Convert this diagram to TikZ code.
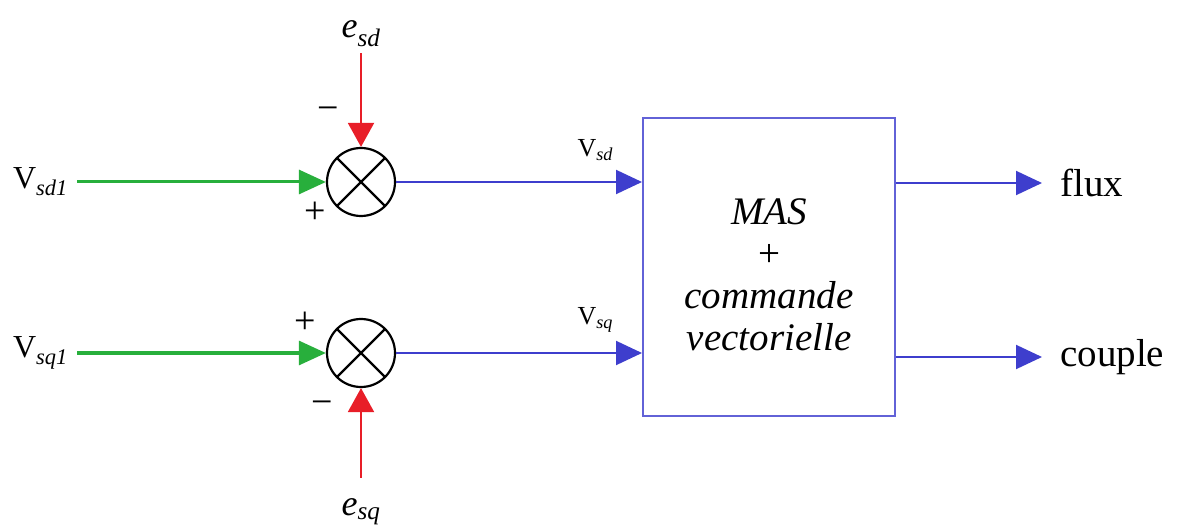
\documentclass[tikz,border=0pt]{standalone}
\usepackage{fontspec}
\setmainfont{Liberation Serif}
\usepackage{tikz}
\usetikzlibrary{arrows.meta, positioning}

\definecolor{sigGreen}{RGB}{40,175,60}
\definecolor{sigRed}{RGB}{232,30,40}
\definecolor{sigBlue}{RGB}{62,62,205}
\definecolor{boxBlue}{RGB}{98,98,215}

\begin{document}
\begin{tikzpicture}[
    x=1pt, y=-1pt,
    node distance=171pt,
    junction/.style={circle, draw=black, line width=2.2pt, minimum size=68pt, inner sep=0pt,
        path picture={\draw[line width=2.2pt] (path picture bounding box.north west) -- (path picture bounding box.south east)
            (path picture bounding box.south west) -- (path picture bounding box.north east);}},
    blockbox/.style={rectangle, draw=boxBlue, line width=2pt, minimum width=252pt, minimum height=298pt, align=center,
        font=\fontsize{39}{42}\selectfont\itshape},
    inlabel/.style={font=\fontsize{32}{36}\selectfont, anchor=east, inner sep=9pt},
    elabel/.style={font=\fontsize{36}{40}\selectfont, inner sep=6pt},
    outlabel/.style={font=\fontsize{39}{44}\selectfont, anchor=west, inner xsep=18pt},
    vlabel/.style={font=\fontsize{26}{30}\selectfont, anchor=south, inner sep=2pt},
    signlabel/.style={font=\fontsize{38}{40}\selectfont, inner sep=0pt},
    greenarrow/.style={draw=sigGreen, line width=3pt, -{Triangle[length=27pt, width=24pt]}},
    redarrow/.style={draw=sigRed, line width=2pt, -{Triangle[length=24pt, width=26pt]}},
    bluearrow/.style={draw=sigBlue, line width=2pt, -{Triangle[length=26pt, width=24pt]}}
]
\useasboundingbox (0,0) rectangle (1180,526);

% summing junctions and the block
\node (sumd) [junction] at (361,182) {};
\node (sumq) [junction, below of=sumd] {};
\node (blk) [blockbox] at (769,267) {\rule{0pt}{42pt}MAS\\ {\upshape +}\\ commande\\ vectorielle};

% inputs
\node (vsdone) [inlabel] at (77,182) {V\textsubscript{\itshape sd1}};
\node (vsqone) [inlabel] at (77,353) {V\textsubscript{\itshape sq1}};
\node (esd) [elabel, above of=sumd, node distance=148pt] {\textit{e}\textsubscript{\itshape sd}};
\node (esq) [elabel, below of=sumq, node distance=159pt] {\textit{e}\textsubscript{\itshape sq}};

% signs
\node (minusd) [signlabel] at (328,114) {−};
\node (plusd) [signlabel] at (315,213) {+};
\node (plusq) [signlabel] at (305,323) {+};
\node (minusq) [signlabel] at (322,408) {−};

% outputs
\node (flux) [outlabel] at (1042,183) {flux};
\node (couple) [outlabel] at (1042,357) {couple};

\draw [greenarrow] (vsdone) -- (sumd);
\draw [greenarrow] (vsqone) -- (sumq);
\draw [redarrow] (esd) -- (sumd);
\draw [redarrow, shorten <=15pt] (esq) -- (sumq);
\draw [bluearrow] (sumd) -- node[vlabel, pos=0.81, yshift=18pt] {V\textsubscript{\itshape sd}} (sumd -| blk.west);
\draw [bluearrow] (sumq) -- node[vlabel, pos=0.81, yshift=18pt] {V\textsubscript{\itshape sq}} (sumq -| blk.west);
\draw [bluearrow] (blk.east |- flux) -- (flux);
\draw [bluearrow] (blk.east |- couple) -- (couple);
\end{tikzpicture}
\end{document}
